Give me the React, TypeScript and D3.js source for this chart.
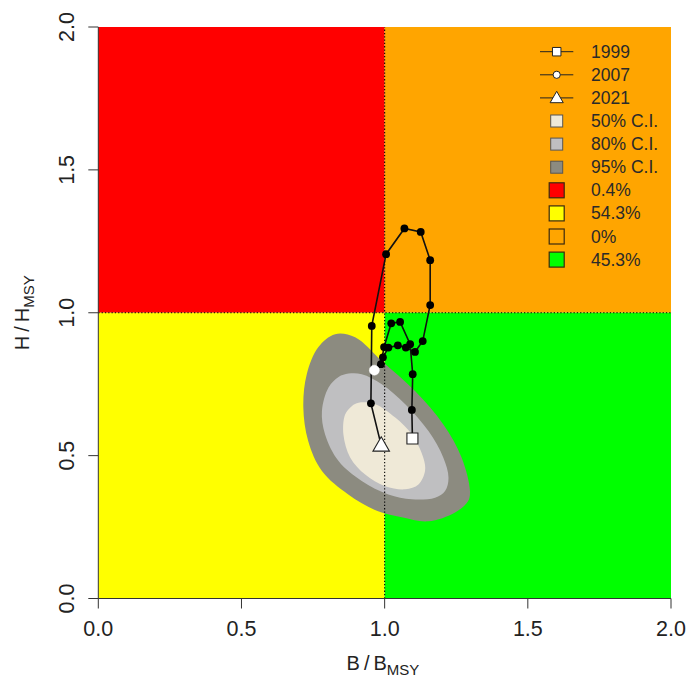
import React from 'react';
import * as d3 from 'd3';

const W = 689;
const H = 678;

// Trajectory (B/Bmsy, H/Hmsy) by year
const years = [1999, 2000, 2001, 2002, 2003, 2004, 2005, 2006, 2007, 2008, 2009, 2010, 2011, 2012, 2013, 2014, 2015, 2016, 2017, 2018, 2019, 2020, 2021];
const bRatio = [1.097, 1.095, 1.098, 1.089, 1.054, 1.023, 0.998, 0.987, 0.964, 0.994, 1.013, 1.046, 1.074, 1.106, 1.133, 1.159, 1.159, 1.126, 1.069, 1.005, 0.955, 0.952, 0.988];
const hRatio = [0.560, 0.660, 0.785, 0.890, 0.968, 0.963, 0.880, 0.820, 0.799, 0.844, 0.878, 0.886, 0.878, 0.863, 0.901, 1.027, 1.184, 1.283, 1.295, 1.205, 0.954, 0.683, 0.536];

// Confidence region outlines (data units)
const ci95B = [0.827, 0.897, 0.990, 1.106, 1.205, 1.269, 1.298, 1.291, 1.246, 1.152, 1.060, 0.977, 0.873, 0.781, 0.733, 0.716, 0.728, 0.768];
const ci95H = [0.925, 0.914, 0.831, 0.726, 0.609, 0.493, 0.376, 0.340, 0.301, 0.270, 0.284, 0.305, 0.364, 0.446, 0.551, 0.669, 0.785, 0.879];
const ci80B = [0.874, 0.920, 0.990, 1.072, 1.153, 1.205, 1.223, 1.211, 1.176, 1.095, 1.013, 0.920, 0.839, 0.792, 0.781, 0.804, 0.839];
const ci80H = [0.787, 0.785, 0.750, 0.680, 0.586, 0.493, 0.423, 0.376, 0.353, 0.347, 0.364, 0.411, 0.481, 0.574, 0.656, 0.738, 0.775];
const ci50B = [0.909, 0.967, 1.037, 1.095, 1.135, 1.141, 1.118, 1.072, 1.002, 0.932, 0.880, 0.856, 0.862, 0.886];
const ci50H = [0.685, 0.680, 0.633, 0.574, 0.493, 0.446, 0.399, 0.382, 0.393, 0.434, 0.493, 0.574, 0.644, 0.674];

// Kobe quadrants
const quadNames = ['overfished & overfishing', 'overfished', 'overfishing', 'healthy'];
const quadX0 = [0, 0, 1, 1];
const quadX1 = [1, 1, 2, 2];
const quadY0 = [1, 0, 1, 0];
const quadY1 = [2, 1, 2, 1];
const quadColors = ['#ff0000', '#ffff00', '#ffa500', '#00ff00'];
const quadPct = ['0.4%', '54.3%', '0%', '45.3%'];

const ciLabels = ['50% C.I.', '80% C.I.', '95% C.I.'];
const ciColors = ['#efe9d7', '#bfbfc1', '#8c8b80'];

const ticks = [0, 0.5, 1, 1.5, 2];
const tickLabels = ['0.0', '0.5', '1.0', '1.5', '2.0'];

const FONT = "'Liberation Sans', Arial, sans-serif";

export default function App() {
  const x = d3.scaleLinear().domain([0, 2]).range([98.3, 671]);
  const y = d3.scaleLinear().domain([0, 2]).range([598.5, 27]);

  const closed = d3
    .line<[number, number]>()
    .x((d) => x(d[0]))
    .y((d) => y(d[1]))
    .curve(d3.curveCatmullRomClosed.alpha(0.5));

  const ciPolys = [
    { b: ci95B, h: ci95H, color: ciColors[2] },
    { b: ci80B, h: ci80H, color: ciColors[1] },
    { b: ci50B, h: ci50H, color: ciColors[0] },
  ];

  const traj = d3
    .line<number>()
    .x((i) => x(bRatio[i]))
    .y((i) => y(hRatio[i]));
  const idx = years.map((_, i) => i);

  const first = 0;
  const mid = years.indexOf(2007);
  const last = years.length - 1;

  const sq = d3.symbol(d3.symbolSquare, 121)();
  const tri = d3.symbol(d3.symbolTriangle, 118)();
  const sqL = d3.symbol(d3.symbolSquare, 72)();
  const triL = d3.symbol(d3.symbolTriangle, 75)();

  // legend
  const lgX = 556.7;
  const lgTextX = 591;
  const lgY0 = 51.7;
  const lgDy = 23.1;
  const legendLabels = ['1999', '2007', '2021', ...ciLabels, ...quadPct];

  return (
    <svg
      width={W}
      height={H}
      style={{ position: 'absolute', left: 0, top: 0, background: '#fff' }}
      fontFamily={FONT}
    >
      {quadNames.map((n, i) => (
        <rect
          key={n}
          x={x(quadX0[i])}
          y={y(quadY1[i])}
          width={x(quadX1[i]) - x(quadX0[i])}
          height={y(quadY0[i]) - y(quadY1[i])}
          fill={quadColors[i]}
        />
      ))}
      {ciPolys.map((p, i) => (
        <path
          key={i}
          d={closed(p.b.map((b, j) => [b, p.h[j]] as [number, number])) || ''}
          fill={p.color}
          stroke="none"
        />
      ))}
      {/* reference lines */}
      <line x1={x(1)} x2={x(1)} y1={y(0)} y2={y(2)} stroke="#000" strokeWidth={1.1} strokeDasharray="1.3 2" />
      <line x1={x(0)} x2={x(2)} y1={y(1)} y2={y(1)} stroke="#000" strokeWidth={1.1} strokeDasharray="1.3 2" />

      {/* trajectory */}
      <path d={traj(idx) || ''} fill="none" stroke="#111" strokeWidth={1.6} />
      {idx
        .filter((i) => i !== first && i !== mid && i !== last)
        .map((i) => (
          <circle key={i} cx={x(bRatio[i])} cy={y(hRatio[i])} r={3.9} fill="#000" />
        ))}
      <path d={sq || ''} transform={`translate(${x(bRatio[first])},${y(hRatio[first])})`} fill="#fff" stroke="#222" strokeWidth={1.1} />
      <circle cx={x(bRatio[mid])} cy={y(hRatio[mid])} r={5} fill="#fff" stroke="#fff" strokeWidth={0.5} />
      <path d={tri || ''} transform={`translate(${x(bRatio[last])},${y(hRatio[last]) + 1})`} fill="#fff" stroke="#222" strokeWidth={1.1} />

      {/* axes */}
      <g stroke="#333" strokeWidth={1}>
        <line x1={x(0)} x2={x(2)} y1={y(0)} y2={y(0)} />
        <line x1={x(0)} x2={x(0)} y1={y(0)} y2={y(2)} />
        {ticks.map((t) => (
          <line key={'xt' + t} x1={x(t)} x2={x(t)} y1={y(0)} y2={y(0) + 10} />
        ))}
        {ticks.map((t) => (
          <line key={'yt' + t} x1={x(0) - 10} x2={x(0)} y1={y(t)} y2={y(t)} />
        ))}
      </g>
      {ticks.map((t, i) => (
        <text key={'xl' + t} x={x(t)} y={636} textAnchor="middle" fontSize={21.5} fill="#222">
          {tickLabels[i]}
        </text>
      ))}
      {ticks.map((t, i) => (
        <text
          key={'yl' + t}
          transform={`translate(74,${y(t)}) rotate(-90)`}
          textAnchor="middle"
          fontSize={21.5}
          fill="#222"
        >
          {tickLabels[i]}
        </text>
      ))}
      {/* axis titles */}
      <text x={383} y={670} textAnchor="middle" fontSize={20} fill="#222">
        <tspan>B</tspan>
        <tspan dx={4}>/</tspan>
        <tspan dx={4}>B</tspan>
        <tspan fontSize={15} dy={5}>MSY</tspan>
      </text>
      <text transform={`translate(29,${y(1)}) rotate(-90)`} textAnchor="middle" fontSize={20} fill="#222">
        <tspan>H</tspan>
        <tspan dx={4}>/</tspan>
        <tspan dx={4}>H</tspan>
        <tspan fontSize={15} dy={5}>MSY</tspan>
      </text>

      {/* legend */}
      <g>
        {[0, 1, 2].map((i) => (
          <line key={'ll' + i} x1={540} x2={573.3} y1={lgY0 + i * lgDy} y2={lgY0 + i * lgDy} stroke="#222" strokeWidth={1} />
        ))}
        <path d={sqL || ''} transform={`translate(${lgX},${lgY0})`} fill="#fff" stroke="#222" strokeWidth={1} />
        <circle cx={lgX} cy={lgY0 + lgDy} r={3.6} fill="#fff" stroke="#222" strokeWidth={1} />
        <path d={triL || ''} transform={`translate(${lgX},${lgY0 + 2 * lgDy + 1})`} fill="#fff" stroke="#222" strokeWidth={1} />
        {ciColors.map((c, i) => (
          <rect
            key={'cl' + i}
            x={lgX - 6}
            y={lgY0 + (3 + i) * lgDy - 6}
            width={12}
            height={12}
            fill={c}
            stroke="#555"
            strokeWidth={1}
          />
        ))}
        {quadColors.map((c, i) => (
          <rect
            key={'ql' + i}
            x={lgX - 7.5}
            y={lgY0 + (6 + i) * lgDy - 7.5}
            width={15}
            height={15}
            fill={c}
            stroke="#3a2a10"
            strokeWidth={1.2}
          />
        ))}
        {legendLabels.map((l, i) => (
          <text
            key={'lt' + i}
            x={lgTextX}
            y={lgY0 + i * lgDy}
            dominantBaseline="central"
            fontSize={17.5}
            fill="#2a2a2a"
          >
            {l}
          </text>
        ))}
      </g>
    </svg>
  );
}
